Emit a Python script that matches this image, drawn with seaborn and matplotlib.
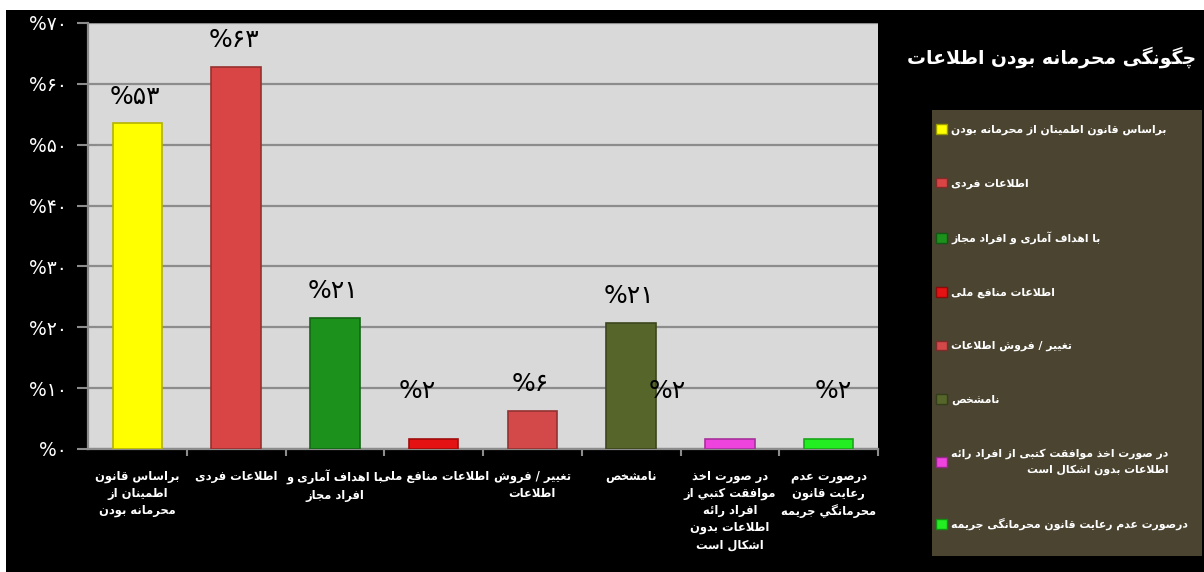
import numpy as np
import pandas as pd
import matplotlib
matplotlib.use("Agg")
import matplotlib.pyplot as plt
import seaborn as sns
from matplotlib.patches import Patch, Rectangle
from matplotlib.font_manager import FontProperties, findfont
from matplotlib.ft2font import FT2Font
from matplotlib.colors import to_rgb

# ---------------- data ----------------
categories = [
    "براساس قانون\nاطمینان از\nمحرمانه بودن",
    "اطلاعات فردی",
    "با اهداف آماری و\nافراد مجاز",
    "اطلاعات منافع ملی",
    "تغییر / فروش\nاطلاعات",
    "نامشخص",
    "در صورت اخذ\nموافقت کتبي از\nافراد رائه\nاطلاعات بدون\nاشکال است",
    "درصورت عدم\nرعایت قانون\nمحرمانگي جریمه",
]
legend_labels = [
    "براساس قانون اطمینان از محرمانه بودن",
    "اطلاعات فردی",
    "با اهداف آماری و افراد مجاز",
    "اطلاعات منافع ملی",
    "تغییر / فروش اطلاعات",
    "نامشخص",
    "در صورت اخذ موافقت کتبی از افراد رائه\nاطلاعات بدون اشکال است",
    "درصورت عدم رعایت قانون محرمانگی جریمه",
]
values = [53.5, 62.8, 21.5, 1.6, 6.3, 20.7, 1.6, 1.6]
value_labels = ["%۵۳", "%۶۳", "%۲۱", "%۲", "%۶", "%۲۱", "%۲", "%۲"]
y_ticks = [0, 10, 20, 30, 40, 50, 60, 70]
y_tick_labels = ["%۰", "%۱۰", "%۲۰", "%۳۰", "%۴۰", "%۵۰", "%۶۰", "%۷۰"]
bar_colors = ["#ffff00", "#d94545", "#1c921c", "#e41212",
              "#d34848", "#56652a", "#ee44dd", "#22ee22"]
title = "چگونگی محرمانه بودن اطلاعات"

# ---------------- minimal Arabic/Persian shaping ----------------
DUAL_START = {
    "ئ": 0xFE89, "ب": 0xFE8F, "ت": 0xFE95, "ث": 0xFE99, "ج": 0xFE9D, "ح": 0xFEA1,
    "خ": 0xFEA5, "س": 0xFEB1, "ش": 0xFEB5, "ص": 0xFEB9, "ض": 0xFEBD, "ط": 0xFEC1,
    "ظ": 0xFEC5, "ع": 0xFEC9, "غ": 0xFECD, "ف": 0xFED1, "ق": 0xFED5, "ك": 0xFED9,
    "ل": 0xFEDD, "م": 0xFEE1, "ن": 0xFEE5, "ه": 0xFEE9, "ي": 0xFEF1,
    "پ": 0xFB56, "چ": 0xFB7A, "ک": 0xFB8E, "گ": 0xFB92, "ی": 0xFBFC,
}
RIGHT_START = {
    "آ": 0xFE81, "أ": 0xFE83, "ؤ": 0xFE85, "إ": 0xFE87, "ا": 0xFE8D, "ة": 0xFE93,
    "د": 0xFEA9, "ذ": 0xFEAB, "ر": 0xFEAD, "ز": 0xFEAF, "و": 0xFEED, "ى": 0xFEEF,
    "ژ": 0xFB8A,
}
LAMALEF = {"آ": 0xFEF5, "أ": 0xFEF7, "إ": 0xFEF9, "ا": 0xFEFB}

_bold_font = FT2Font(findfont(FontProperties(family="DejaVu Sans", weight="bold")))
_reg_font = FT2Font(findfont(FontProperties(family="DejaVu Sans")))


def _has(cp):
    return _bold_font.get_char_index(cp) != 0 and _reg_font.get_char_index(cp) != 0


FORMS = {}
for ch, s in DUAL_START.items():
    FORMS[ch] = [chr(s), chr(s + 1), chr(s + 2), chr(s + 3)]
for ch, s in RIGHT_START.items():
    FORMS[ch] = [chr(s), chr(s + 1), None, None]
FALLBACK = {"ک": "ك", "گ": "ك", "پ": "ب", "چ": "ج"}
for ch, alt in FALLBACK.items():
    if not all(_has(ord(f)) for f in FORMS[ch]):
        FORMS[ch] = FORMS[alt]
if not all(_has(ord(f)) for f in FORMS["ی"]):
    FORMS["ی"] = [chr(0xFEEF), chr(0xFEF0), chr(0xFEF3), chr(0xFEF4)]
DUAL = set(DUAL_START)


def shape_line(s):
    out = []
    i, n = 0, len(s)
    while i < n:
        c = s[i]
        if c not in FORMS:
            out.append(c)
            i += 1
            continue
        prev = s[i - 1] if i > 0 else None
        cp = prev is not None and prev in DUAL
        if c == "ل" and i + 1 < n and s[i + 1] in LAMALEF:
            base = LAMALEF[s[i + 1]]
            out.append(chr(base + 1) if cp else chr(base))
            i += 2
            continue
        nxt = s[i + 1] if i + 1 < n else None
        cn = c in DUAL and nxt is not None and nxt in FORMS
        f = FORMS[c]
        if cp and cn:
            g = f[3]
        elif cp:
            g = f[1]
        elif cn:
            g = f[2]
        else:
            g = f[0]
        out.append(g)
        i += 1
    return "".join(reversed(out))


def shape(s):
    return "\n".join(shape_line(l) for l in s.split("\n"))


def darker(c, k=0.6):
    r, g, b = to_rgb(c)
    return (r * k, g * k, b * k)


plt.rcParams["font.family"] = ["DejaVu Sans"]

# ---------------- figure ----------------
W, H = 1204, 572
fig = plt.figure(figsize=(W / 100, H / 100), dpi=100, facecolor="white")
fig.patches.append(Rectangle((6 / W, 0), 1 - 6 / W, 1 - 10 / H, transform=fig.transFigure,
                             facecolor="black", edgecolor="none", zorder=-10))
fig.patches.append(Rectangle((932 / W, 1 - 556 / H), (1202 - 932) / W, (556 - 110) / H,
                             transform=fig.transFigure, facecolor="#4a4430",
                             edgecolor="none", zorder=-5))

ax = fig.add_axes([88 / W, 1 - 449 / H, (878 - 88) / W, (449 - 23) / H])
ax.set_facecolor("#d9d9d9")

shaped_cats = [shape(c) for c in categories]
df = pd.DataFrame({"cat": shaped_cats, "val": values})
sns.barplot(data=df, x="cat", y="val", hue="cat", palette=bar_colors, width=0.5,
            saturation=1, legend=False, ax=ax, zorder=3)
for p, c in zip(ax.patches, bar_colors):
    p.set_edgecolor(darker(c, 0.7))
    p.set_linewidth(1.2)

ax.set_xlim(-0.5, 7.5)
ax.set_ylim(0, 70)
ax.set_yticks(y_ticks)
ax.set_yticklabels(y_tick_labels, color="white", fontsize=13.5)
ax.tick_params(axis="y", length=8, width=1.5, color="#8c8c8c", pad=7)
ax.grid(axis="y", color="#8c8c8c", lw=1.6)
ax.set_axisbelow(True)
for s in ["top", "right"]:
    ax.spines[s].set_visible(False)
for s in ["left", "bottom"]:
    ax.spines[s].set_color("#8c8c8c")
    ax.spines[s].set_linewidth(1.6)

ax.set_xticks(range(len(categories)))
ax.set_xticklabels(shaped_cats, color="white", fontsize=8.3, fontweight="bold",
                   linespacing=1.4)
ax.tick_params(axis="x", which="major", length=0, pad=15)
ax.set_xticks(np.arange(0.5, len(categories), 1), minor=True)
ax.tick_params(axis="x", which="minor", length=5, width=1.5, color="#8c8c8c")
ax.set_xlabel("")
ax.set_ylabel("")

label_dx = {3: -16, 6: -63, 7: 5}
for i, (v, lab) in enumerate(zip(values, value_labels)):
    ax.annotate(lab, (i, max(v + 4.4, 9.5)), xytext=(label_dx.get(i, -2), 0),
                textcoords="offset pixels", ha="center", va="center",
                fontsize=18, color="black", zorder=5)

fig.text(1052 / W, 1 - 57 / H, shape(title), color="white", fontsize=13.5,
         fontweight="bold", ha="center", va="center")

handles = [Patch(facecolor=c, edgecolor=darker(c, 0.6)) for c in bar_colors]
leg = fig.legend(handles, [shape(l) for l in legend_labels], loc="upper left",
                 bbox_to_anchor=(936 / W, 1 - 124 / H), frameon=False,
                 labelcolor="white",
                 prop=FontProperties(family="DejaVu Sans", weight="bold", size=7.8),
                 labelspacing=3.95, handlelength=1.0, handleheight=1.0,
                 handletextpad=0.4, borderpad=0, borderaxespad=0)
for t in leg.get_texts():
    t.set_multialignment("right")
    t.set_linespacing(1.7)

fig.savefig("out.png", dpi=100, facecolor=fig.get_facecolor())
